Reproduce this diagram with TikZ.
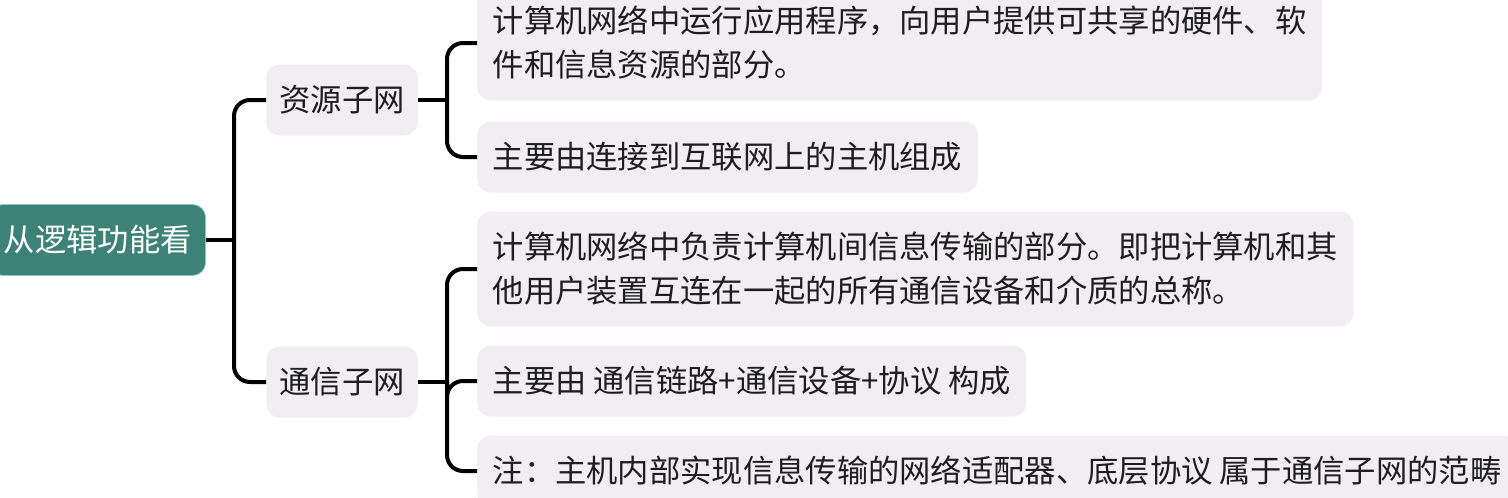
\documentclass[tikz,border=0pt]{standalone}
\usepackage{fontspec}
\setmainfont{Noto Sans CJK SC}
\usepackage{tikz}
\definecolor{rootteal}{HTML}{3D8276}
\definecolor{rootedge}{HTML}{86CBBF}
\definecolor{boxgray}{HTML}{F0EEF1}
\definecolor{inkgray}{HTML}{1E1E1E}
\begin{document}
\begin{tikzpicture}[x=1pt, y=-1pt,
  topic/.style={rounded corners=13pt, inner xsep=14pt, inner ysep=20.5pt,
    text height=26pt, text depth=4pt, align=left,
    font=\fontsize{31.3}{44}\selectfont},
  rootbox/.style={topic, fill=rootteal, draw=rootedge, line width=0.8pt, text=white},
  subbox/.style={topic, fill=boxgray, text=inkgray, inner xsep=13pt},
  leafbox/.style={topic, fill=boxgray, text=inkgray, inner xsep=15.5pt, anchor=west},
  twoline/.style={text height=70pt},
  link/.style={line width=4pt, rounded corners=16pt, black}]
\useasboundingbox (0,0) rectangle (1508,498);

\node[rootbox, anchor=east] (root) at (206,240) {从逻辑功能看};
\node[subbox] (res) at (342,100) {资源子网};
\node[subbox] (com) at (342,382) {通信子网};

\node[leafbox, twoline] (resA) at (477,43) {计算机网络中运行应用程序，向用户提供可共享的硬件、软\\件和信息资源的部分。};
\node[leafbox] (resB) at (477,157) {主要由连接到互联网上的主机组成};
\node[leafbox, twoline] (comA) at (477,269) {计算机网络中负责计算机间信息传输的部分。即把计算机和其\\他用户装置互连在一起的所有通信设备和介质的总称。};
\node[leafbox] (comB) at (477,381) {主要由 通信链路+通信设备+协议 构成};
\node[leafbox] (comC) at (477,471) {注：主机内部实现信息传输的网络适配器、底层协议 属于通信子网的范畴};

\coordinate (jroot) at (234,240);
\coordinate (jres) at (447,100);
\coordinate (jcom) at (447,382);

\draw[link] (root.east) -- (jroot);
\draw[link] (jroot) |- (res.west);
\draw[link] (jroot) |- (com.west);

\draw[link] (res.east) -- (jres);
\draw[link] (jres) |- (resA.west);
\draw[link] (jres) |- (resB.west);

\draw[link] (com.east) -- (jcom);
\draw[link] (jcom) |- (comA.west);
\draw[link] (jcom) |- (comB.west);
\draw[link] (jcom) |- (comC.west);
\end{tikzpicture}
\end{document}
